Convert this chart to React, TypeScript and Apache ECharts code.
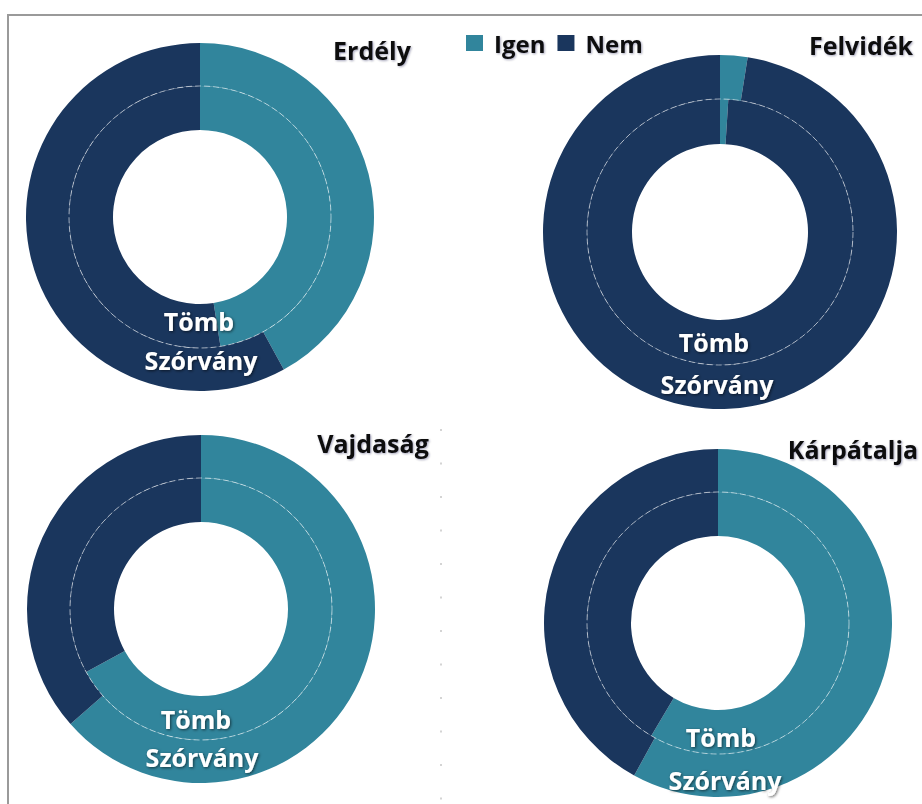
import React, { useEffect, useRef } from 'react';
import * as echarts from 'echarts';

// ---- data ----
const categories = ['Igen', 'Nem'];
const regions = ['Erdély', 'Felvidék', 'Vajdaság', 'Kárpátalja'];
const ringNames = ['Tömb', 'Szórvány'];
const tombIgen = [47.5, 1, 67, 58.5];
const tombNem = [52.5, 99, 33, 41.5];
const szorvanyIgen = [42, 2.5, 63.5, 58];
const szorvanyNem = [58, 97.5, 36.5, 42];

// ---- layout / style ----
const TEAL = '#31859C';
const NAVY = '#1A365D';
const FONT = "'Open Sans', 'Noto Sans', sans-serif";

const centers: [number, number][] = [
  [200, 217],
  [720, 232],
  [201, 609],
  [718, 623],
];
const radii = [
  [87, 131, 174],
  [88, 133, 177],
  [87, 131, 174],
  [87, 131, 174],
];
const titlePos: [number, number][] = [
  [372, 50],
  [861, 45],
  [373, 443],
  [853, 449],
];
const labelOffsets: [number, number, number, number][] = [
  // tombDx, tombDy, szorvanyDx, szorvanyDy
  [-1, 104, 1, 143],
  [-6, 110, -3, 152],
  [-5, 110, 1, 148],
  [3, 114, 7, 157],
];

export default function App() {
  const ref = useRef<HTMLDivElement>(null);

  useEffect(() => {
    if (!ref.current) return;
    const chart = echarts.init(ref.current, null, { renderer: 'svg' });

    const series: any[] = [];
    const graphics: any[] = [];

    regions.forEach((region, i) => {
      const [cx, cy] = centers[i];
      const [r0, r1, r2] = radii[i];
      const inner = [tombIgen[i], tombNem[i]];
      const outer = [szorvanyIgen[i], szorvanyNem[i]];
      const mk = (vals: number[], rad: number[], nm: string) => ({
        type: 'pie',
        name: `${region} ${nm}`,
        center: [cx, cy],
        radius: rad,
        startAngle: 90,
        clockwise: true,
        silent: true,
        label: { show: false },
        labelLine: { show: false },
        emphasis: { disabled: true },
        data: categories.map((c, k) => ({
          name: c,
          value: vals[k],
          itemStyle: { color: k === 0 ? TEAL : NAVY, borderWidth: 0 },
        })),
      });
      series.push(mk(inner, [r0, r1], ringNames[0]));
      series.push(mk(outer, [r1, r2], ringNames[1]));

      graphics.push({
        type: 'circle',
        z: 100,
        silent: true,
        shape: { cx, cy, r: r1 },
        style: {
          fill: 'none',
          stroke: 'rgba(255,255,255,0.55)',
          lineWidth: 1,
          lineDash: [6, 3],
        },
      });

      const [tdx, tdy, sdx, sdy] = labelOffsets[i];
      const labelStyle = (text: string) => ({
        text,
        fill: '#ffffff',
        fontSize: 25,
        fontWeight: 'bold',
        fontFamily: FONT,
        align: 'center',
        verticalAlign: 'middle',
        textShadowColor: 'rgba(0,0,0,0.6)',
        textShadowBlur: 3,
        textShadowOffsetX: 1,
        textShadowOffsetY: 1,
      });
      graphics.push({
        type: 'text',
        z: 110,
        x: cx + tdx,
        y: cy + tdy,
        style: labelStyle(ringNames[0]),
      });
      graphics.push({
        type: 'text',
        z: 110,
        x: cx + sdx,
        y: cy + sdy,
        style: labelStyle(ringNames[1]),
      });

      graphics.push({
        type: 'text',
        z: 110,
        x: titlePos[i][0],
        y: titlePos[i][1],
        style: {
          text: region,
          fill: '#111111',
          fontSize: 25,
          fontWeight: 'bold',
          fontFamily: FONT,
          align: 'center',
          verticalAlign: 'middle',
          textShadowColor: 'rgba(0,0,60,0.35)',
          textShadowBlur: 2,
          textShadowOffsetX: 1,
          textShadowOffsetY: 1,
        },
      });
    });

    // frame and faint dotted divider
    graphics.push({
      type: 'polyline',
      z: 50,
      silent: true,
      shape: { points: [[8, 804], [8, 15], [922, 15]] },
      style: { fill: 'none', stroke: '#9a9a9a', lineWidth: 2 },
    });
    graphics.push({
      type: 'line',
      z: 50,
      silent: true,
      shape: { x1: 441, y1: 429, x2: 441, y2: 804 },
      style: { stroke: '#d4d4d4', lineWidth: 2, lineDash: [2, 31.5] },
    });

    chart.setOption({
      animation: false,
      backgroundColor: '#ffffff',
      legend: {
        data: categories,
        left: 461,
        top: 26,
        icon: 'rect',
        itemWidth: 17,
        itemHeight: 16,
        itemGap: 12,
        selectedMode: false,
        textStyle: {
          fontSize: 24,
          fontWeight: 'bold',
          fontFamily: FONT,
          color: '#111111',
          padding: [0, 0, 0, 6],
          textShadowColor: 'rgba(0,0,60,0.35)',
          textShadowBlur: 2,
          textShadowOffsetX: 1,
          textShadowOffsetY: 1,
        },
      },
      series,
      graphic: graphics,
    });

    return () => chart.dispose();
  }, []);

  return (
    <div
      ref={ref}
      style={{ position: 'absolute', left: 0, top: 0, width: 922, height: 804, background: '#fff' }}
    />
  );
}
